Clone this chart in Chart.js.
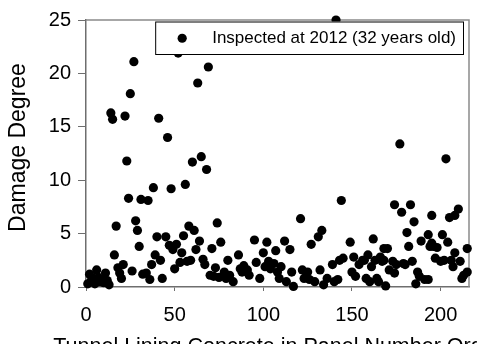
<!DOCTYPE html>
<html>
<head>
<meta charset="utf-8">
<script src="https://cdn.jsdelivr.net/npm/chart.js@4/dist/chart.umd.min.js"></script>
<style>
  html, body { margin: 0; padding: 0; background: #fff; overflow: hidden; }
  #wrap { width: 477px; height: 360px; position: relative; }
</style>
</head>
<body>
<div id="wrap"><canvas id="c" width="477" height="360"></canvas></div>
<script>
// Panel number along the tunnel and the damage degree measured for it
const panelNo = [
  1, 2, 3, 4, 5, 6, 7, 8, 9, 10, 11, 12, 13, 14, 15, 16, 17, 18, 19, 20,
  21, 22, 23, 24, 25, 26, 27, 28, 29, 30, 31, 32, 34, 35, 36, 37, 38, 39, 40, 41,
  42, 43, 45, 46, 47, 48, 49, 50, 51, 52, 53, 54, 55, 56, 57, 58, 59, 60, 61, 62,
  63, 64, 65, 66, 67, 68, 69, 70, 71, 72, 73, 74, 75, 76, 78, 79, 80, 81, 83, 86,
  87, 88, 89, 91, 92, 95, 96, 98, 100, 101, 102, 103, 104, 106, 107, 108, 109, 110, 112, 113,
  115, 116, 117, 121, 122, 123, 125, 126, 127, 129, 131, 132, 133, 134, 136, 139, 140, 141, 142, 143,
  144, 145, 149, 150, 151, 152, 154, 156, 157, 158, 159, 160, 161, 162, 163, 164, 165, 166, 167, 168,
  168, 169, 170, 171, 173, 174, 174, 175, 177, 178, 179, 180, 181, 182, 183, 184, 185, 186, 187, 188,
  189, 191, 193, 193, 194, 195, 195, 196, 197, 198, 200, 201, 202, 203, 204, 205, 206, 207, 208, 208,
  210, 211, 212, 213, 215, 215
];
const damage = [
  0.3, 1.2, 0.6, 0.8, 0.3, 1.6, 0.9, 0.5, 0.7, 0.4, 1.3, 0.6, 0.2, 16.3, 15.7, 3.0, 5.7, 1.8, 1.3, 0.8,
  2.1, 16.0, 11.8, 8.3, 18.1, 1.5, 21.1, 6.2, 5.3, 3.8, 8.2, 1.2, 1.3, 8.1, 0.7, 2.1, 9.3, 3.0, 4.7, 15.8,
  2.5, 0.8, 4.7, 14.0, 3.9, 9.2, 3.5, 1.7, 4.0, 21.9, 2.3, 3.2, 4.8, 9.6, 2.4, 5.7, 2.5, 11.7, 5.3, 3.5,
  19.1, 4.3, 12.2, 2.6, 2.1, 11.0, 20.6, 1.1, 3.6, 1.0, 1.8, 6.0, 0.9, 4.2, 1.4, 0.8, 2.5, 1.1, 0.5, 3.0,
  1.7, 1.4, 2.0, 1.6, 1.1, 4.4, 2.3, 0.8, 3.2, 1.9, 4.2, 2.4, 1.7, 2.2, 3.4, 1.4, 0.8, 1.9, 4.3, 0.5,
  3.5, 1.4, 0.05, 6.4, 1.6, 0.8, 1.4, 0.7, 4.0, 0.5, 4.7, 1.6, 5.3, 0.2, 0.8, 2.1, 0.5, 25.0, 0.7, 2.5,
  8.1, 2.7, 4.2, 1.4, 2.8, 1.0, 2.1, 2.5, 2.5, 0.8, 3.0, 0.5, 1.9, 4.5, 2.5, 0.8, 0.5, 2.8, 2.4, 2.5,
  3.6, 0.1, 3.6, 1.6, 2.4, 1.3, 7.7, 2.1, 13.4, 7.0, 2.2, 2.1, 5.1, 3.8, 7.7, 2.4, 6.1, 0.3, 1.4, 1.0,
  4.3, 0.7, 0.7, 4.9, 3.8, 4.1, 6.7, 3.8, 2.7, 3.7, 2.4, 4.9, 2.5, 12.0, 4.2, 6.5, 2.5, 1.9, 6.7, 3.2,
  7.3, 2.4, 0.8, 1.1, 1.4, 3.6
];

const xTicks = [0, 50, 100, 150, 200];
const yTicks = [0, 5, 10, 15, 20, 25];

const seriesLabel = 'Inspected at 2012 (32 years old)';
const xTitle = 'Tunnel Lining Concrete in Panel Number Order';
const yTitle = 'Damage Degree';

const FONT = "'Liberation Sans', Arial, Helvetica, sans-serif";
const AXIS_COLOR = '#6e6e6e';
const MARKER = { pointStyle: 'circle', radius: 4.6, borderWidth: 0, rotation: 0 };

// Closes the plot box with the top and right edges
const frameBox = {
  id: 'frameBox',
  beforeDatasetsDraw(chart) {
    const { ctx, chartArea: a } = chart;
    ctx.save();
    ctx.strokeStyle = '#8a8a8a';
    ctx.lineWidth = 1.5;
    ctx.beginPath();
    ctx.moveTo(a.left, a.top);
    ctx.lineTo(a.right, a.top);
    ctx.lineTo(a.right, a.bottom);
    ctx.stroke();
    ctx.restore();
  }
};

// Axis titles at their natural width (the x title runs past the bottom edge)
const axisTitles = {
  id: 'axisTitles',
  afterDraw(chart) {
    const { ctx, chartArea: a } = chart;
    ctx.save();
    ctx.fillStyle = '#000';
    ctx.textAlign = 'center';
    ctx.textBaseline = 'middle';
    ctx.font = '21.5px ' + FONT;
    ctx.fillText(xTitle, (a.left + a.right) / 2, a.bottom + 60);
    ctx.translate(19, (a.top + a.bottom) / 2 - 6);
    ctx.rotate(-Math.PI / 2);
    ctx.font = '23px ' + FONT;
    ctx.fillText(yTitle, 0, 0);
    ctx.restore();
  }
};

// Boxed legend placed inside the top-right corner of the plot, over the points
const insetLegend = {
  id: 'insetLegend',
  afterDatasetsDraw(chart) {
    const { ctx, chartArea: a } = chart;
    const ds = chart.data.datasets[0];
    ctx.save();
    ctx.font = '17px ' + FONT;
    const textW = ctx.measureText(ds.label).width;
    const right = a.right - 5;
    const top = a.top + 1.5;
    const h = 33.5;
    const left = right - (textW + 57 + 8);
    ctx.fillStyle = '#fff';
    ctx.fillRect(left, top, right - left, h);
    ctx.strokeStyle = '#000';
    ctx.lineWidth = 1;
    ctx.strokeRect(left + 0.5, top + 0.5, right - left - 1, h - 1);
    const cy = top + h / 2;
    ctx.fillStyle = ds.pointBackgroundColor;
    if (Chart.helpers && Chart.helpers.drawPoint) {
      Chart.helpers.drawPoint(ctx, MARKER, left + 27, cy);
    } else {
      ctx.beginPath();
      ctx.arc(left + 27, cy, MARKER.radius, 0, Math.PI * 2);
      ctx.fill();
    }
    ctx.fillStyle = '#000';
    ctx.textAlign = 'left';
    ctx.textBaseline = 'middle';
    ctx.fillText(ds.label, left + 57, cy + 0.5);
    ctx.restore();
  }
};

new Chart(document.getElementById('c'), {
  type: 'scatter',
  data: {
    datasets: [{
      label: seriesLabel,
      data: panelNo.map((p, i) => ({ x: p, y: damage[i] })),
      pointStyle: 'circle',
      pointRadius: MARKER.radius,
      pointBackgroundColor: '#000',
      pointBorderWidth: 0,
      showLine: false,
      clip: false
    }]
  },
  options: {
    responsive: false,
    animation: false,
    events: [],
    layout: { padding: { top: 20, right: 8, left: 0, bottom: 0 } },
    plugins: {
      legend: { display: false },
      tooltip: { enabled: false }
    },
    scales: {
      x: {
        type: 'linear',
        min: 0,
        max: 216,
        afterBuildTicks: s => { s.ticks = xTicks.map(v => ({ value: v })); },
        afterFit: s => { s.height = 73; },
        ticks: { color: '#000', font: { family: FONT, size: 20 }, padding: 12, maxRotation: 0, includeBounds: false },
        grid: { drawOnChartArea: false, drawTicks: true, tickLength: 4, color: AXIS_COLOR, lineWidth: 1 },
        border: { display: true, color: AXIS_COLOR, width: 1.5 },
        title: { display: false }
      },
      y: {
        type: 'linear',
        min: 0,
        max: 25,
        afterBuildTicks: s => { s.ticks = yTicks.map(v => ({ value: v })); },
        afterFit: s => { s.width = 86; },
        ticks: { color: '#000', font: { family: FONT, size: 20 }, padding: 7, includeBounds: false },
        grid: { drawOnChartArea: false, drawTicks: true, tickLength: 8, color: AXIS_COLOR, lineWidth: 1 },
        border: { display: true, color: AXIS_COLOR, width: 1.5 },
        title: { display: false }
      }
    }
  },
  plugins: [frameBox, axisTitles, insetLegend]
});
</script>
</body>
</html>
